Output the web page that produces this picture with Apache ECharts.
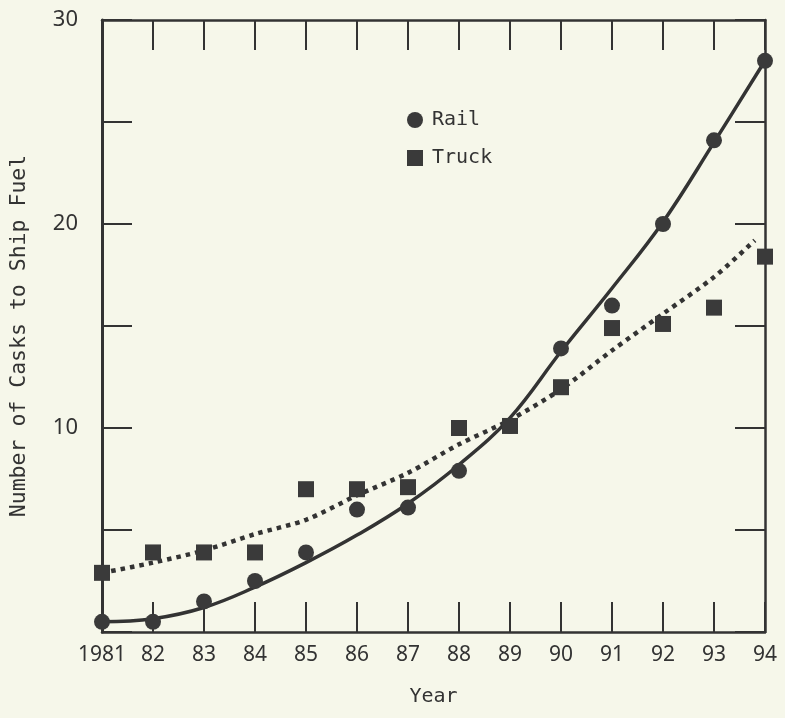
<!DOCTYPE html>
<html>
<head>
<meta charset="utf-8">
<script src="https://cdn.jsdelivr.net/npm/echarts@6/dist/echarts.min.js"></script>
<style>
html,body{margin:0;padding:0;background:#f6f7ea;}
#c{width:785px;height:718px;}
</style>
</head>
<body>
<div id="c"></div>
<script>
const years = [1981,1982,1983,1984,1985,1986,1987,1988,1989,1990,1991,1992,1993,1994];
const tickLabels = ['1981','82','83','84','85','86','87','88','89','90','91','92','93','94'];
const yTickLabels = {10:'10', 20:'20', 30:'30'};
const railValues  = [0.5,0.5,1.5,2.5,3.9,6.0,6.1,7.9,10.1,13.9,16.0,20.0,24.1,28.0];
const truckValues = [2.9,3.9,3.9,3.9,7.0,7.0,7.1,10.0,10.1,12.0,14.9,15.1,15.9,18.4];
const railFitYears = [1981,1982,1983,1984,1985,1986,1987,1988,1989,1990,1991,1992,1993,1994];
const railFit      = [0.5,0.65,1.2,2.2,3.4,4.75,6.3,8.2,10.5,13.75,16.85,20.1,24.0,28.0];
const truckFitYears = [1981,1982,1983,1984,1985,1986,1987,1988,1989,1990,1991,1992,1993,1993.8];
const truckFit      = [2.9,3.4,4.0,4.8,5.5,6.7,7.8,9.2,10.4,11.9,13.8,15.6,17.4,19.2];

const ink = '#333333';
const numFont = "'Noto Sans',sans-serif";
const monoFont = "'DejaVu Sans Mono',monospace";

const zip = (xs, ys) => xs.map((x, i) => [x, ys[i]]);

const chart = echarts.init(document.getElementById('c'), null, {renderer:'canvas'});
chart.setOption({
  backgroundColor: '#f6f7ea',
  animation: false,
  grid: {left: 97, right: 20, top: 20, bottom: 86},
  legend: {
    data: [{name:'Rail', icon:'circle'}, {name:'Truck', icon:'rect'}],
    orient: 'vertical',
    left: 402, top: 104,
    itemWidth: 16, itemHeight: 16, itemGap: 16,
    textStyle: {fontFamily: monoFont, fontSize: 20, color: ink, lineHeight: 22, padding:[0,0,0,4]}
  },
  xAxis: [{
    type: 'value', min: 1981, max: 1994, interval: 1,
    name: 'Year', nameLocation: 'middle', nameGap: 55,
    nameTextStyle: {fontFamily: monoFont, fontSize: 20, color: ink},
    axisLine: {onZero: false, lineStyle: {color: ink, width: 2.5}},
    axisTick: {inside: true, length: 30, lineStyle: {color: ink, width: 2}},
    axisLabel: {fontFamily: numFont, fontSize: 21, color: ink, margin: 13,
      formatter: v => tickLabels[years.indexOf(Math.round(v))] || ''},
    splitLine: {show: false}
  }, {
    type: 'value', min: 1981, max: 1994, interval: 1, position: 'top',
    axisLine: {onZero: false, lineStyle: {color: ink, width: 2.5}},
    axisTick: {inside: true, length: 30, lineStyle: {color: ink, width: 2}},
    axisLabel: {show: false},
    splitLine: {show: false}
  }],
  yAxis: [{
    type: 'value', min: 0, max: 30, interval: 5,
    name: 'Number of Casks to Ship Fuel', nameLocation: 'middle', nameGap: 72,
    nameRotate: 90,
    nameTextStyle: {fontFamily: monoFont, fontSize: 21.5, color: ink, padding:[0,20,0,0]},
    axisLine: {onZero: false, lineStyle: {color: ink, width: 3}},
    axisTick: {inside: true, length: 30, lineStyle: {color: ink, width: 2}},
    axisLabel: {fontFamily: numFont, fontSize: 22, color: ink, margin: 24,
      padding: [0,0,12,0],
      formatter: v => yTickLabels[v] || ''},
    splitLine: {show: false}
  }, {
    type: 'value', min: 0, max: 30, interval: 5, position: 'right',
    axisLine: {onZero: false, lineStyle: {color: ink, width: 2.5}},
    axisTick: {inside: true, length: 30, lineStyle: {color: ink, width: 2}},
    axisLabel: {show: false},
    splitLine: {show: false}
  }],
  series: [
    {
      name: 'Truck trend', type: 'line', data: zip(truckFitYears, truckFit),
      smooth: 0.3, showSymbol: false, symbol: 'none', silent: true,
      lineStyle: {color: ink, width: 4.5, type: [4.5, 5], cap: 'butt'}, z: 2
    },
    {
      name: 'Rail trend', type: 'line', data: zip(railFitYears, railFit),
      smooth: 0.4, showSymbol: false, symbol: 'none', silent: true,
      lineStyle: {color: ink, width: 3.5}, z: 2
    },
    {
      name: 'Truck', type: 'scatter', data: zip(years, truckValues),
      symbol: 'rect', symbolSize: 16, itemStyle: {color: '#3a3a3a', opacity: 1}, z: 3
    },
    {
      name: 'Rail', type: 'scatter', data: zip(years, railValues),
      symbol: 'circle', symbolSize: 16, itemStyle: {color: '#3a3a3a', opacity: 1}, z: 4
    }
  ]
});
</script>
</body>
</html>
